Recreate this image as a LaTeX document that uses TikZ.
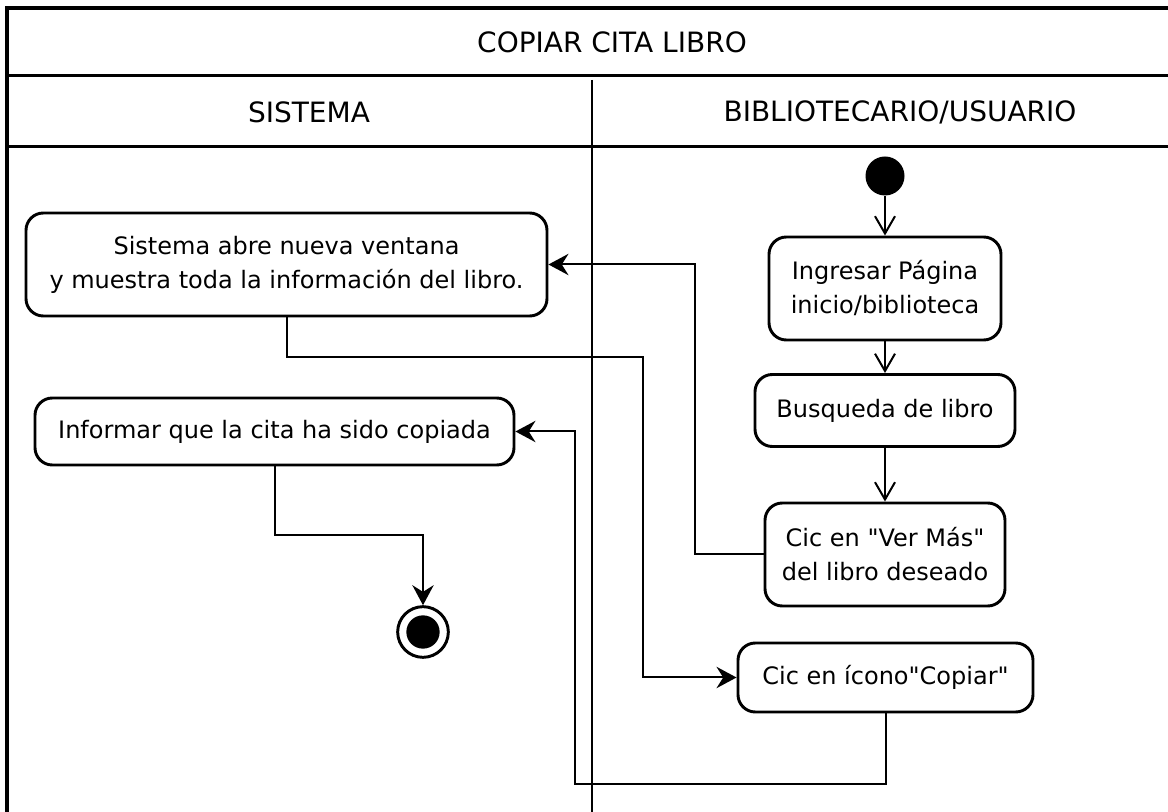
\documentclass[tikz,border=0pt]{standalone}
\usepackage{fontspec}
\setmainfont{DejaVu Sans}
\usetikzlibrary{arrows.meta}
\begin{document}
\begin{tikzpicture}[x=0.75pt,y=-0.75pt,
  act/.style={draw, line width=2.2pt, rounded corners=13pt, align=center,
    font=\fontsize{18}{25.5}\selectfont, inner sep=0pt},
  frame/.style={line width=2.6pt},
  conn/.style={line width=1.5pt},
  fa/.style={conn, -{Stealth[length=15pt,width=16pt,inset=5pt]}},
  oa/.style={conn, -{Straight Barb[length=13pt,width=15pt]}},
  hdr/.style={font=\fontsize{21}{26}\selectfont}]
\useasboundingbox (0,0) rectangle (1168,812);
% frame
\draw[frame] (7,812) -- (7,8) -- (1168,8);
\draw[frame] (7,75.5) -- (1168,75.5);
\draw[frame] (7,146.5) -- (1168,146.5);
\draw[line width=2.2pt] (592,80) -- (592,812);
\node[hdr] (title) at (612,42) {COPIAR CITA LIBRO};
\node[hdr] (lane1) at (309,112) {SISTEMA};
\node[hdr] (lane2) at (900,112) {BIBLIOTECARIO/USUARIO};
% activities
\node[act, minimum width=390.75pt, minimum height=77.25pt] (sis) at (286.5,264.5)
  {Sistema abre nueva ventana\\y muestra toda la información del libro.};
\node[act, minimum width=359.25pt, minimum height=50.25pt] (inf) at (274.5,431.5)
  {Informar que la cita ha sido copiada};
\node[act, minimum width=174pt, minimum height=77.25pt] (ing) at (885,288.5)
  {Ingresar Página\\inicio/biblioteca};
\node[act, minimum width=195pt, minimum height=54pt] (bus) at (885,410.5)
  {Busqueda de libro};
\node[act, minimum width=180pt, minimum height=77.25pt] (ver) at (885,554.5)
  {Cic en \textquotedbl Ver Más\textquotedbl\\del libro deseado};
\node[act, minimum width=221.25pt, minimum height=51.75pt] (cop) at (885.5,677.5)
  {Cic en ícono\textquotedbl Copiar\textquotedbl};
% start / end
\node[circle, fill, minimum size=29.25pt, inner sep=0pt] (start) at (885,176) {};
\node[circle, draw, line width=2.2pt, minimum size=38pt, inner sep=0pt] (end) at (423,632) {};
\node[circle, fill, minimum size=25pt, inner sep=0pt] (endin) at (end) {};
% bend points
\coordinate (c1) at (695,264.5);
\coordinate (c2) at (643,357);
\coordinate (c3) at (575,784);
\coordinate (c4) at (423,535);
% connectors
\draw[oa] (start) -- (ing);
\draw[oa] (ing) -- (bus);
\draw[oa] (bus) -- (ver);
\draw[fa] (ver.west) -| (c1) -- (sis.east);
\draw[fa] (sis.south) |- (c2) |- (cop.west);
\draw[fa] (cop.south) |- (c3) |- (inf.east);
\draw[fa] (inf.south) |- (c4) -- (end);
\end{tikzpicture}
\end{document}
